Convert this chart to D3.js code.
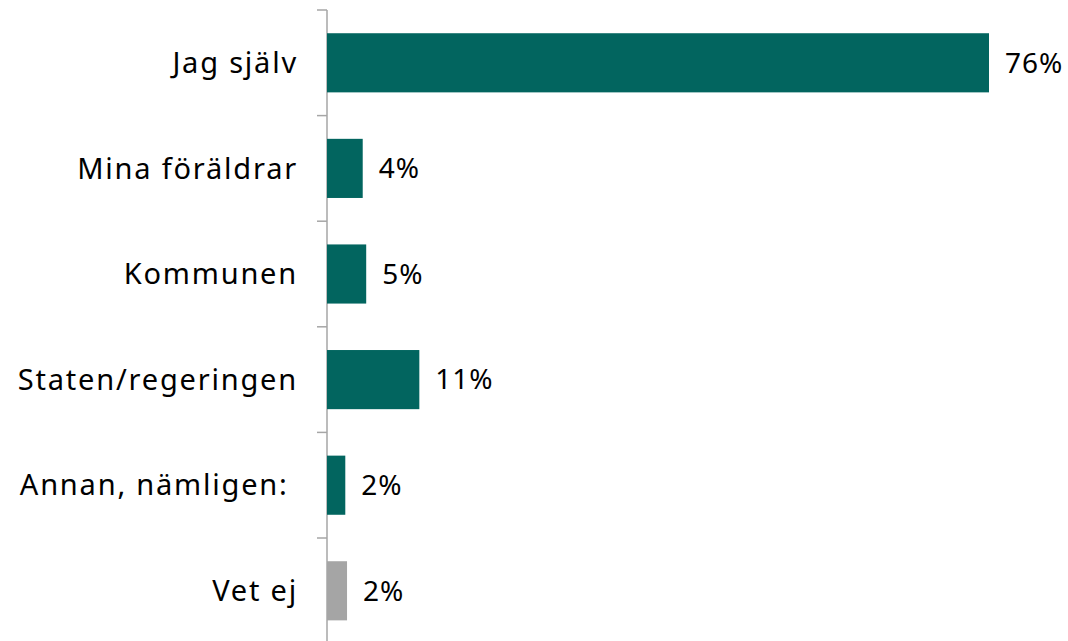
<!DOCTYPE html>
<html>
<head>
<meta charset="utf-8">
<script src="https://cdn.jsdelivr.net/npm/d3@7"></script>
<style>
  body { margin: 0; background: #fff; }
  svg text { font-family: "Noto Sans", "DejaVu Sans", sans-serif; fill: #000; white-space: pre; }
</style>
</head>
<body>
<svg id="chart"></svg>
<script>
// data
const categories = ['Jag själv', 'Mina föräldrar', 'Kommunen', 'Staten/regeringen', 'Annan, nämligen: ', 'Vet ej'];
const values = [76, 4.1, 4.5, 10.6, 2.1, 2.3];
const valueLabels = ['76%', '4%', '5%', '11%', '2%', '2%'];
const barColors = ['#02655f', '#02655f', '#02655f', '#02655f', '#02655f', '#a5a5a5'];

(function() {
  const dim = { w: 1068, h: 641 },
    margin = { top: 10, left: 327, right: 79 },
    bandStep = 105.6;

  const $svg = d3.select('#chart')
    .attr('width', dim.w)
    .attr('height', dim.h);

  const xScale = d3.scaleLinear()
    .domain([0, 76])
    .range([margin.left, dim.w - margin.right]);

  const yScale = d3.scaleBand()
    .domain(categories)
    .range([margin.top, margin.top + bandStep * categories.length])
    .paddingInner(0.44)
    .paddingOuter(0.22);

  // axis line with ticks between categories
  const $axis = $svg.append('g');
  $axis.append('line')
    .attr('x1', margin.left).attr('x2', margin.left)
    .attr('y1', margin.top).attr('y2', dim.h)
    .attr('stroke', '#a6a6a6')
    .attr('stroke-width', 1.5);
  $axis.selectAll('.tick')
    .data(d3.range(categories.length))
    .enter()
    .append('line')
    .attr('x1', margin.left - 10).attr('x2', margin.left)
    .attr('y1', (i) => margin.top + i * bandStep)
    .attr('y2', (i) => margin.top + i * bandStep)
    .attr('stroke', '#a6a6a6')
    .attr('stroke-width', 1.5);

  $svg.append('g')
    .selectAll('rect')
    .data(values)
    .enter()
    .append('rect')
    .attr('x', xScale(0))
    .attr('y', (d, i) => yScale(categories[i]))
    .attr('width', (d) => xScale(d) - xScale(0))
    .attr('height', yScale.bandwidth())
    .attr('fill', (d, i) => barColors[i]);

  $svg.append('g')
    .selectAll('text')
    .data(categories)
    .enter()
    .append('text')
    .text((d) => d)
    .attr('text-anchor', 'end')
    .attr('font-size', 29)
    .attr('letter-spacing', 1.8)
    .attr('x', margin.left - 29)
    .attr('y', (d) => yScale(d) + yScale.bandwidth() / 2)
    .attr('dy', '0.35em');

  $svg.append('g')
    .selectAll('text')
    .data(values)
    .enter()
    .append('text')
    .text((d, i) => valueLabels[i])
    .attr('font-size', 28)
    .attr('letter-spacing', 1)
    .attr('x', (d) => xScale(d) + 16)
    .attr('y', (d, i) => yScale(categories[i]) + yScale.bandwidth() / 2)
    .attr('dy', '0.35em');
})();
</script>
</body>
</html>
